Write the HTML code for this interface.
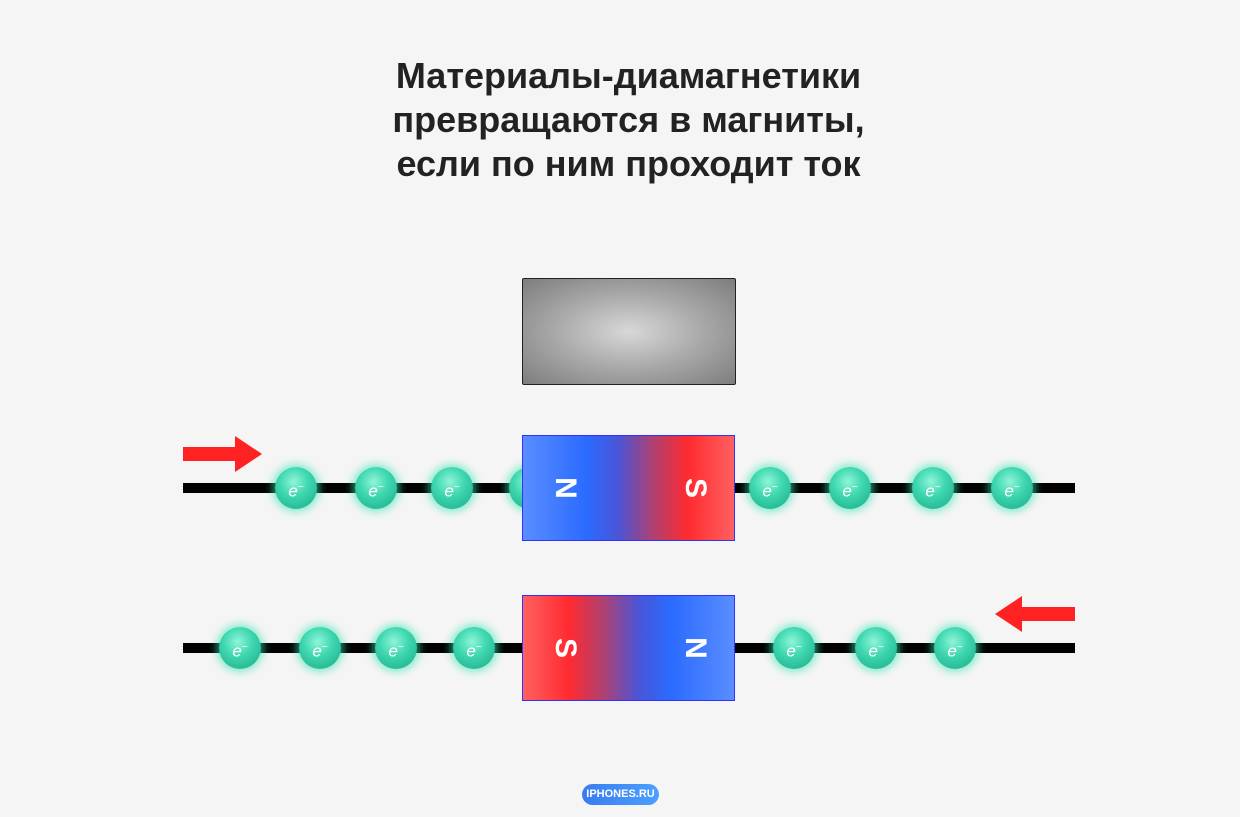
<!DOCTYPE html>
<html><head><meta charset="utf-8"><style>
body{margin:0;width:1240px;height:817px;background:#f5f5f5;position:relative;overflow:hidden;font-family:"Liberation Sans",sans-serif}
.t{position:absolute;left:0;width:1257px;top:54px;text-align:center;font-size:36px;font-weight:bold;line-height:44px;color:#222}
.wire{position:absolute;left:183px;width:892px;height:10px;background:#000}
.e{position:absolute;width:42px;height:42px;border-radius:50%;background:radial-gradient(circle at 45% 35%,#8ff5d8 0%,#3fd8b0 40%,#19a886 100%);box-shadow:0 0 8px 3px rgba(60,230,180,.6);color:#fff;font-style:italic;font-size:17px;line-height:42px;text-align:center}
.e sup{font-size:10px;font-style:normal}
.m{position:absolute;left:522px;width:211px;height:104px;border:1px solid}
.l{position:absolute;color:#fff;font-weight:bold;font-size:30px;top:50%;transform:translate(-50%,-50%) rotate(90deg)}
</style></head><body>
<div class="t">Материалы-диамагнетики<br>превращаются в магниты,<br>если по ним проходит ток</div>
<div style="position:absolute;left:522px;top:278px;width:212px;height:105px;border:1px solid #222;border-radius:2px;background:radial-gradient(ellipse at 50% 50%,#d8d8d8 0%,#a8a8a8 50%,#7d7d7d 100%)"></div>
<div class="wire" style="top:483px"></div>
<div class="wire" style="top:643px"></div>
<svg style="position:absolute;left:0;top:0" width="1240" height="817">
<polygon points="183,447 235,447 235,436 262,454 235,472 235,461 183,461" fill="#f22"/>
<polygon points="1075,607 1022,607 1022,596 995,614 1022,632 1022,621 1075,621" fill="#f22"/>
</svg>
<div class="e" style="left:275px;top:467px">e<sup>−</sup></div>
<div class="e" style="left:355px;top:467px">e<sup>−</sup></div>
<div class="e" style="left:431px;top:467px">e<sup>−</sup></div>
<div class="e" style="left:509px;top:467px">e<sup>−</sup></div>
<div class="e" style="left:749px;top:467px">e<sup>−</sup></div>
<div class="e" style="left:829px;top:467px">e<sup>−</sup></div>
<div class="e" style="left:912px;top:467px">e<sup>−</sup></div>
<div class="e" style="left:991px;top:467px">e<sup>−</sup></div>
<div class="e" style="left:219px;top:627px">e<sup>−</sup></div>
<div class="e" style="left:299px;top:627px">e<sup>−</sup></div>
<div class="e" style="left:375px;top:627px">e<sup>−</sup></div>
<div class="e" style="left:453px;top:627px">e<sup>−</sup></div>
<div class="e" style="left:773px;top:627px">e<sup>−</sup></div>
<div class="e" style="left:855px;top:627px">e<sup>−</sup></div>
<div class="e" style="left:934px;top:627px">e<sup>−</sup></div>
<div class="m" style="top:435px;border-color:#33f;background:linear-gradient(90deg,#5a8dff 0%,#2a6bff 30%,#4a55d8 45%,#b04070 62%,#ff2a30 78%,#ff6060 100%)"><span class="l" style="left:42px">N</span><span class="l" style="left:172px">S</span></div>
<div class="m" style="top:595px;border-color:#33f;background:linear-gradient(90deg,#ff6060 0%,#ff2a30 22%,#b04070 38%,#4a55d8 55%,#2a6bff 70%,#5a8dff 100%)"><span class="l" style="left:42px">S</span><span class="l" style="left:172px">N</span></div>
<div style="position:absolute;left:582px;top:784px;width:77px;height:21px;border-radius:11px;background:linear-gradient(90deg,#3a7cf0,#4aa0ff);color:#fff;font-size:11px;font-weight:bold;line-height:21px;text-align:center">IPHONES.RU</div>
</body></html>
